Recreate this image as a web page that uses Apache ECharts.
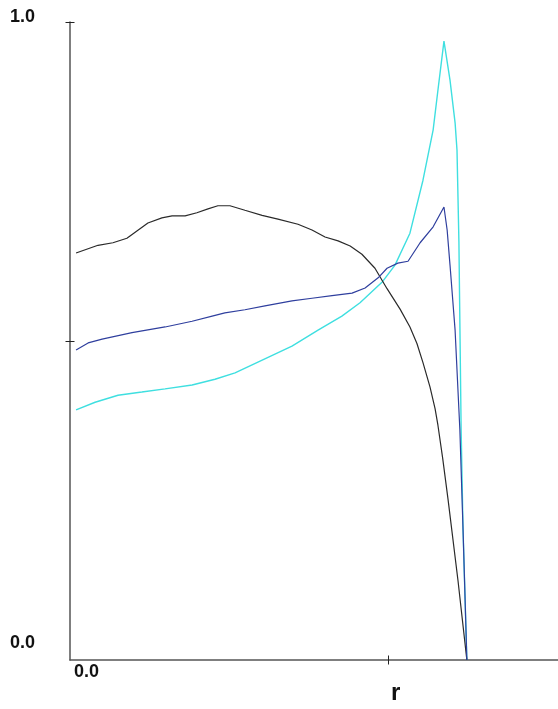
<!DOCTYPE html>
<html>
<head>
<meta charset="utf-8">
<script src="https://cdn.jsdelivr.net/npm/echarts@6/dist/echarts.min.js"></script>
<style>
html,body{margin:0;padding:0;background:#fff;}
#chart{width:558px;height:709px;}
</style>
</head>
<body>
<div id="chart"></div>
<script>
// r values and curve values
const blackSeries = [
  [0.019,0.638],[0.088,0.650],[0.135,0.654],[0.179,0.661],[0.245,0.685],[0.289,0.693],
  [0.321,0.696],[0.362,0.696],[0.399,0.701],[0.434,0.707],[0.465,0.712],[0.503,0.712],
  [0.550,0.705],[0.604,0.697],[0.654,0.691],[0.717,0.683],[0.761,0.674],[0.802,0.663],
  [0.843,0.657],[0.881,0.649],[0.918,0.636],[0.959,0.614],[0.997,0.582],[1.038,0.550],
  [1.069,0.522],[1.091,0.496],[1.110,0.466],[1.132,0.428],[1.148,0.394],[1.157,0.368],
  [1.172,0.316],[1.189,0.251],[1.220,0.125],[1.248,0.0]
];
const navySeries = [
  [0.019,0.486],[0.057,0.497],[0.101,0.503],[0.195,0.513],[0.299,0.522],[0.384,0.531],
  [0.447,0.539],[0.487,0.544],[0.550,0.549],[0.613,0.555],[0.698,0.563],[0.761,0.567],
  [0.824,0.571],[0.887,0.575],[0.928,0.583],[0.969,0.599],[0.997,0.614],[1.031,0.622],
  [1.063,0.625],[1.101,0.654],[1.142,0.679],[1.176,0.710],[1.186,0.674],[1.195,0.619],
  [1.211,0.517],[1.226,0.361],[1.236,0.204],[1.248,0.0]
];
const cyanSeries = [
  [0.019,0.392],[0.079,0.404],[0.151,0.415],[0.226,0.420],[0.299,0.425],[0.384,0.431],
  [0.456,0.440],[0.519,0.450],[0.591,0.467],[0.698,0.492],[0.780,0.517],[0.855,0.539],
  [0.912,0.560],[0.981,0.592],[1.022,0.619],[1.069,0.669],[1.110,0.752],[1.142,0.831],
  [1.157,0.893],[1.176,0.970],[1.195,0.909],[1.211,0.842],[1.217,0.799],[1.223,0.655],
  [1.230,0.361],[1.236,0.204],[1.248,0.0]
];
const yTickValues = [0.5, 1];
const xTickValues = [1];
const xLabelValues = [0];
const xName = 'r';

const chart = echarts.init(document.getElementById('chart'), null, {renderer:'canvas'});
const fontFam = '"Liberation Sans", Arial, sans-serif';
const option = {
  backgroundColor: '#fff',
  animation: false,
  grid: {left: 70, right: 0, top: 22, bottom: 49, containLabel: false},
  xAxis: [{
    type: 'value', min: 0, max: 1.5346,
    axisLine: {show: true, lineStyle: {color: '#555', width: 1.5}},
    axisTick: {show: false},
    splitLine: {show: false},
    axisLabel: {
      show: true, customValues: xLabelValues, align: 'left', margin: 3,
      formatter: v => v.toFixed(1),
      color: '#111', fontWeight: 'bold', fontSize: 18, fontFamily: fontFam,
      padding: [0,0,0,4]
    }
  }, {
    type: 'value', min: 0, max: 1.5346, position: 'bottom', offset: -4.5,
    axisLine: {show: false},
    axisTick: {show: true, customValues: xTickValues, length: 9, lineStyle: {color: '#222', width: 1}},
    axisLabel: {show: false}, splitLine: {show: false}
  }],
  yAxis: [{
    type: 'value', min: 0, max: 1, interval: 0.5,
    axisLine: {show: true, lineStyle: {color: '#555', width: 1.5}},
    axisTick: {show: false},
    splitLine: {show: false},
    axisLabel: {
      show: true, margin: 35, align: 'right',
      formatter: function (v) {
        if (v === 1) return '{t|' + v.toFixed(1) + '}';
        if (v === 0) return '{b|' + v.toFixed(1) + '}';
        return '';
      },
      rich: {
        t: {color: '#111', fontWeight: 'bold', fontSize: 18, fontFamily: fontFam, padding: [0,0,10,0]},
        b: {color: '#111', fontWeight: 'bold', fontSize: 18, fontFamily: fontFam, padding: [0,0,34,0]}
      }
    }
  }, {
    type: 'value', min: 0, max: 1, position: 'left', offset: -4.5,
    axisLine: {show: false},
    axisTick: {show: true, customValues: yTickValues, length: 9, lineStyle: {color: '#222', width: 1}},
    axisLabel: {show: false}, splitLine: {show: false}
  }],
  graphic: [{
    type: 'text', left: 391, top: 681,
    style: {text: xName, fill: '#111', font: 'bold 24px ' + fontFam}
  }],
  series: [
    {type: 'line', data: blackSeries, showSymbol: false, lineStyle: {color: '#2a2a2a', width: 1.2}, z: 3},
    {type: 'line', data: navySeries, showSymbol: false, lineStyle: {color: '#2f3f9e', width: 1.2}, z: 4},
    {type: 'line', data: cyanSeries, showSymbol: false, lineStyle: {color: '#3fdfe0', width: 1.4}, z: 2}
  ]
};
chart.setOption(option);
</script>
</body>
</html>
